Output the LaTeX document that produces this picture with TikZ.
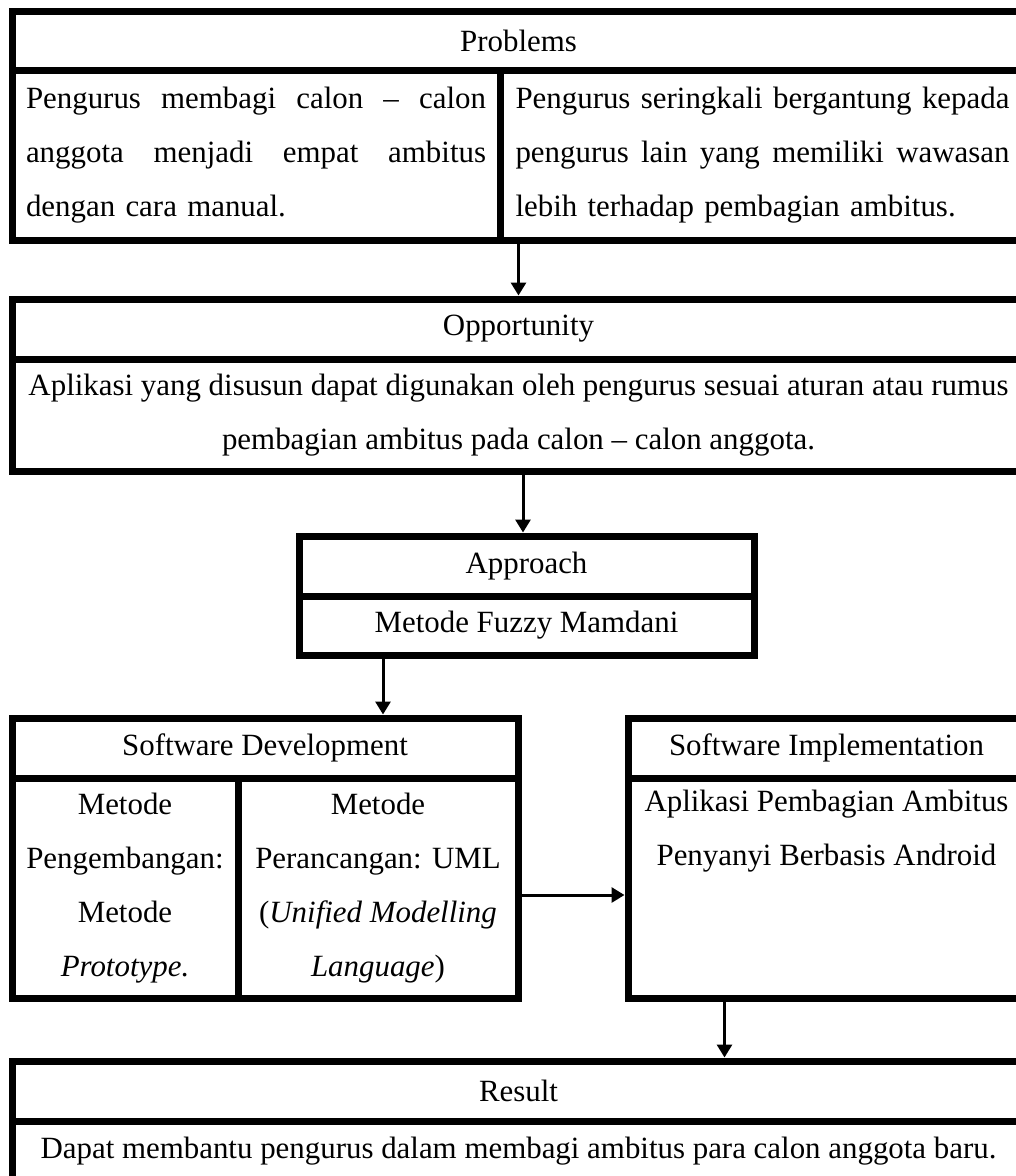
\documentclass[tikz,border=0pt]{standalone}
\usepackage{fontspec}
\setmainfont{Liberation Serif}
\usetikzlibrary{arrows.meta,calc}
\newcommand{\fillline}[2]{\leavevmode\hbox to #1{#2}}
\tikzset{
  txtfont/.style={font=\fontsize{30.9pt}{54pt}\selectfont},
  cell/.style={draw=black, line width=7pt, inner sep=0pt, txtfont, align=center},
  plain/.style={inner sep=0pt, txtfont, align=center},
  arr/.style={draw=black, line width=3pt, -{Triangle[length=13pt,width=15pt]}},
}
\begin{document}
\begin{tikzpicture}[x=1pt,y=-1pt]
\useasboundingbox (0,0) rectangle (1016,1176);
\fill[white] (0,0) rectangle (1016,1176);
\clip (0,0) rectangle (1016,1176);

% Problems
\node[cell, minimum width=1013pt, minimum height=59pt] (probT) at (518.5,40.5) {Problems};
\node[cell, minimum width=488pt, minimum height=170pt, text width=460pt, align=left] (probL) at (256,155)
  {\fillline{460pt}{Pengurus\hfill membagi\hfill calon\hfill --\hfill calon}\\
   \fillline{460pt}{anggota\hfill menjadi\hfill empat\hfill ambitus}\\
   dengan cara manual.};
\node[cell, minimum width=525pt, minimum height=170pt, text width=494pt, align=left] (probR) at (762.5,155)
  {\fillline{494pt}{Pengurus\hfill seringkali\hfill bergantung\hfill kepada}\\
   \fillline{494pt}{pengurus\hfill lain\hfill yang\hfill memiliki\hfill wawasan}\\
   lebih terhadap pembagian ambitus.};

% Opportunity
\node[cell, minimum width=1013pt, minimum height=60pt] (oppT) at (518.5,329) {Opportunity};
\node[cell, minimum width=1013pt, minimum height=112pt] (oppB) at (518.5,415)
  {Aplikasi yang disusun dapat digunakan oleh pengurus sesuai aturan atau rumus\\ pembagian ambitus pada calon -- calon anggota.};

% Approach
\node[cell, minimum width=455pt, minimum height=60pt] (appT) at (526.5,566) {Approach};
\node[cell, minimum width=455pt, minimum height=59pt] (appB) at (526.5,625.5) {Metode Fuzzy Mamdani};

% Software Development
\node[cell, minimum width=506pt, minimum height=60pt] (sdT) at (265,748) {Software Development};
\node[cell, minimum width=226pt, minimum height=220pt] (sdL) at (125,888)
  {Metode\\ Pengembangan:\\ Metode\\ \textit{Prototype.}};
\node[cell, minimum width=280pt, minimum height=220pt] (sdR) at (378,888)
  {Metode\\ Perancangan: UML\\ (\textit{Unified Modelling}\\ \textit{Language})};

% Software Implementation
\node[cell, minimum width=397pt, minimum height=60pt] (siT) at (826.5,748) {Software Implementation};
\node[cell, minimum width=397pt, minimum height=220pt] (siB) at (826.5,888) {};
\node[plain, anchor=north] (siTxt) at (826.5,790) {Aplikasi Pembagian Ambitus\\ Penyanyi Berbasis Android};

% Result
\node[cell, minimum width=1013pt, minimum height=60pt] (resT) at (518.5,1091) {Result};
\node[cell, minimum width=1013pt, minimum height=60pt] (resB) at (518.5,1151)
  {Dapat membantu pengurus dalam membagi ambitus para calon anggota baru.};

% Connectors
\draw[arr] (probR.south -| oppT.north) -- (oppT.north);
\draw[arr] ([xshift=-3.5pt]oppB.south -| appT.north) -- ([xshift=-3.5pt]appT.north);
\draw[arr] ([xshift=87.5pt]appB.south west) -- ([xshift=87.5pt]appB.south west |- sdT.north);
\draw[arr] ([yshift=-7pt]sdR.east) -- ([yshift=-7pt]sdR.east -| siB.west);
\draw[arr] ([xshift=100pt]siB.south west) -- ([xshift=100pt]siB.south west |- resT.north);
\end{tikzpicture}
\end{document}
